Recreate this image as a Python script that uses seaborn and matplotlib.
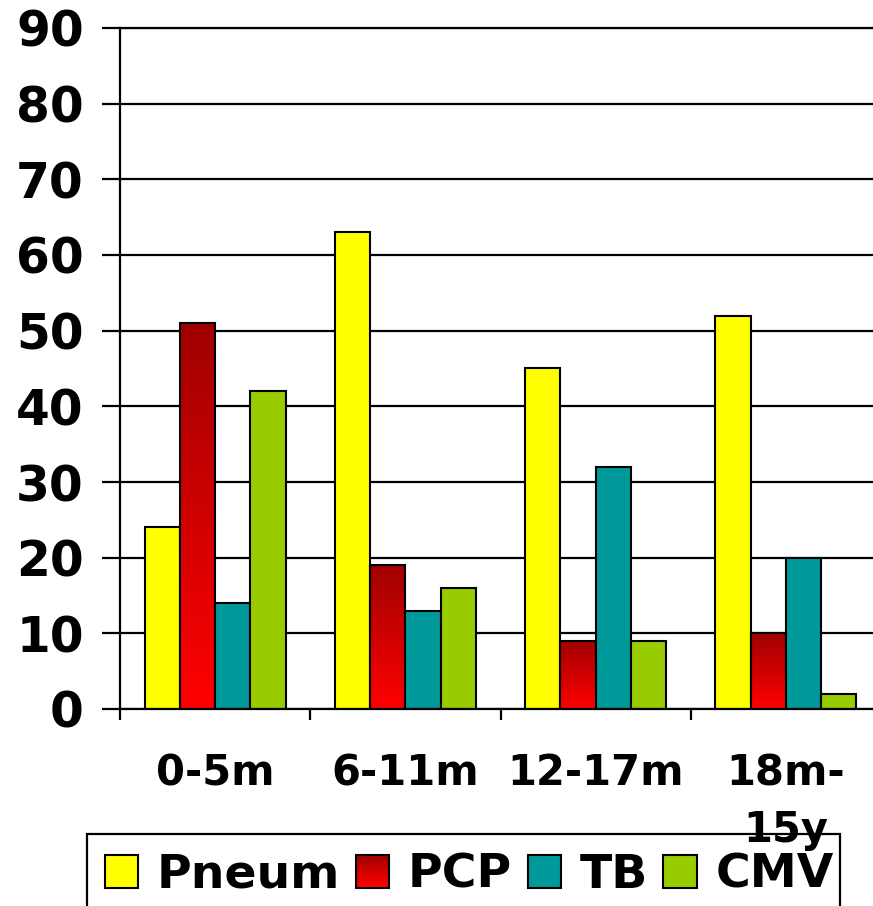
import numpy as np
import pandas as pd
import matplotlib
matplotlib.use("Agg")
import matplotlib.pyplot as plt
import seaborn as sns
from matplotlib.colors import LinearSegmentedColormap
from matplotlib.legend_handler import HandlerBase
from matplotlib.patches import Rectangle

# data
ages = ['0-5m', '6-11m', '12-17m', '18m-\n15y']
diseases = ['Pneum', 'PCP', 'TB', 'CMV']
pneum = [24, 63, 45, 52]
pcp = [51, 19, 9, 10]
tb = [14, 13, 32, 20]
cmv = [42, 16, 9, 2]
y_ticks = [0, 10, 20, 30, 40, 50, 60, 70, 80, 90]

colors = {'Pneum': '#FFFF00', 'PCP': '#FF0000', 'TB': '#009999', 'CMV': '#99CC00'}
red_grad = LinearSegmentedColormap.from_list('pcp', ['#FF0000', '#A00000'])

rows = []
for name, vals in zip(diseases, [pneum, pcp, tb, cmv]):
    for age, v in zip(ages, vals):
        rows.append({'age': age, 'disease': name, 'value': v})
df = pd.DataFrame(rows)


class GradientHandler(HandlerBase):
    """Legend box filled with the vertical red gradient."""
    def create_artists(self, legend, orig_handle, xdescent, ydescent,
                       width, height, fontsize, trans):
        artists = []
        n = 30
        for i in range(n):
            r = Rectangle((-xdescent, -ydescent + height * i / n), width, height / n + 0.3,
                          facecolor=red_grad(i / (n - 1)), edgecolor='none', transform=trans)
            artists.append(r)
        artists.append(Rectangle((-xdescent, -ydescent), width, height, facecolor='none',
                                 edgecolor='black', linewidth=1.5, transform=trans))
        return artists


sns.set_theme(style='white')
plt.rcParams['font.family'] = ['DejaVu Sans']
plt.rcParams['font.weight'] = 'bold'
plt.rcParams['text.color'] = 'black'
plt.rcParams['xtick.color'] = 'black'
plt.rcParams['ytick.color'] = 'black'

fig = plt.figure(figsize=(8.73, 9.06), dpi=100)
ax = fig.add_axes([120 / 873, 1 - 709 / 906, 761 / 873, 681 / 906])

sns.barplot(data=df, x='age', y='value', hue='disease', order=ages, hue_order=diseases,
            palette=colors, saturation=1, width=0.74, edgecolor='black', linewidth=1.5,
            legend=False, ax=ax, zorder=2)

# gradient fill for the PCP bars
grad = np.linspace(0, 1, 256).reshape(-1, 1)
for bar in ax.containers[1]:
    x0, w, h = bar.get_x(), bar.get_width(), bar.get_height()
    ax.imshow(grad, extent=[x0, x0 + w, 0, h], origin='lower', aspect='auto',
              cmap=red_grad, zorder=1.9, interpolation='bilinear')
    bar.set_facecolor('none')

ax.set_xlim(-0.5, 3.5)
ax.set_ylim(0, 90)
ax.set_yticks(y_ticks)
ax.set_xticks(range(len(ages)))
ax.set_xticklabels(ages, fontsize=30, fontweight='bold', linespacing=1.45, color='black')
ax.set_xticks([-0.5, 0.5, 1.5, 2.5, 3.5], minor=True)
ax.set_xlabel('')
ax.set_ylabel('')

ax.grid(axis='y', color='black', linewidth=1.6)
ax.set_axisbelow(True)
ax.spines['right'].set_visible(False)
for s in ['left', 'bottom', 'top']:
    ax.spines[s].set_color('black')
    ax.spines[s].set_linewidth(1.6)

ax.tick_params(axis='y', which='major', left=True, length=13, width=1.6, color='black',
               pad=13, labelsize=35, labelcolor='black', direction='out')
ax.tick_params(axis='x', which='major', bottom=True, length=0, pad=31)
ax.tick_params(axis='x', which='minor', bottom=True, length=8, width=1.6, color='black',
               direction='out')
for lbl in ax.get_yticklabels():
    lbl.set_fontweight('bold')

handles = [Rectangle((0, 0), 1, 1, facecolor=colors[d], edgecolor='black', linewidth=1.5)
           for d in diseases]
leg = fig.legend(handles, diseases, loc='upper left', bbox_to_anchor=(86 / 873, 1 - 834 / 906),
                 ncol=4, frameon=False, prop={'weight': 'bold', 'size': 34},
                 handlelength=0.7, handleheight=0.68, handletextpad=0.4, columnspacing=0.33,
                 borderpad=0.4, borderaxespad=0, labelcolor='black',
                 handler_map={handles[1]: GradientHandler()})

# legend box, running off the bottom of the figure as in the original
fig.patches.append(Rectangle((87 / 873, -0.05), (840 - 87) / 873, 0.05 + 1 - 834 / 906,
                             transform=fig.transFigure, facecolor='none', edgecolor='black',
                             linewidth=1.6))

fig.savefig('out.png', dpi=100, facecolor='white')
